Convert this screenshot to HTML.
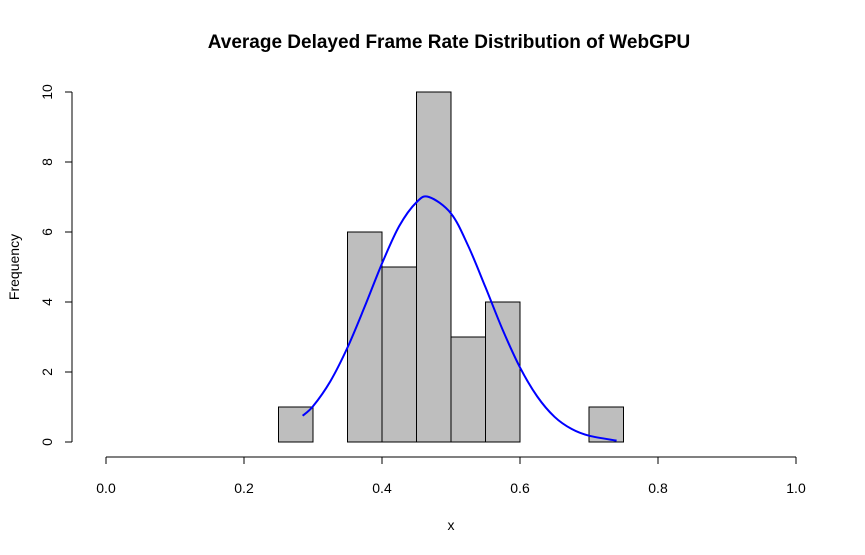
<!DOCTYPE html>
<html><head><meta charset="utf-8"><style>
html,body{margin:0;padding:0;background:#fff;}
svg{display:block;font-family:"Liberation Sans",Arial,sans-serif;}
</style></head><body>
<svg id="chart" width="865" height="555">
<text x="449" y="48" text-anchor="middle" font-size="19" font-weight="bold">Average Delayed Frame Rate Distribution of WebGPU</text>
<text x="451" y="530" text-anchor="middle" font-size="14">x</text>
<text transform="translate(19,267) rotate(-90)" text-anchor="middle" font-size="14">Frequency</text>
<g id="bars"></g><g id="xaxis"></g><g id="yaxis"></g><g id="curve"></g>
</svg>
<script>
const binStarts=[0.25,0.30,0.35,0.40,0.45,0.50,0.55,0.60,0.65,0.70];
const binWidth=0.05;
const counts=[1,0,6,5,10,3,4,0,0,1];
const xTicks=[0,0.2,0.4,0.6,0.8,1.0];
const xTickLabels=["0.0","0.2","0.4","0.6","0.8","1.0"];
const yTicks=[0,2,4,6,8,10];
const curveX=[0.285,0.30,0.325,0.35,0.375,0.40,0.425,0.45,0.468,0.50,0.525,0.55,0.575,0.60,0.625,0.65,0.675,0.70,0.74];
const curveY=[0.75,1.02,1.73,2.70,3.87,5.10,6.17,6.85,7.0,6.53,5.60,4.42,3.20,2.13,1.30,0.72,0.37,0.18,0.04];
const NS="http://www.w3.org/2000/svg";
const sx=v=>106+v*690, sy=v=>442-v*35;
function mk(tag,attrs,parent){const e=document.createElementNS(NS,tag);for(const k in attrs)e.setAttribute(k,attrs[k]);parent.appendChild(e);return e;}
const gb=document.getElementById('bars');
binStarts.forEach((b,i)=>{if(counts[i]<=0)return;
 const r=mk('rect',{x:sx(b),y:sy(counts[i]),width:sx(b+binWidth)-sx(b),height:sy(0)-sy(counts[i]),fill:'#bebebe',stroke:'#000','stroke-width':1},gb);
 
 });
const gx=document.getElementById('xaxis');
const xl=mk('line',{x1:sx(xTicks[0]),x2:sx(xTicks[xTicks.length-1]),y1:457,y2:457,stroke:'#000'},gx);


xTicks.forEach((t,i)=>{mk('line',{x1:sx(t),x2:sx(t),y1:457,y2:464,stroke:'#000'},gx);
 const tx=mk('text',{x:sx(t),y:493,'text-anchor':'middle','font-size':14},gx);tx.textContent=xTickLabels[i];
 
 });
const gy=document.getElementById('yaxis');
const yl=mk('line',{x1:72,x2:72,y1:sy(yTicks[0]),y2:sy(yTicks[yTicks.length-1]),stroke:'#000'},gy);


yTicks.forEach(t=>{mk('line',{x1:65,x2:72,y1:sy(t),y2:sy(t),stroke:'#000'},gy);
 const tx=mk('text',{transform:`translate(52,${sy(t)}) rotate(-90)`,'text-anchor':'middle','font-size':14},gy);tx.textContent=t;
 
 });
const gc=document.getElementById('curve');
const P=curveX.map((x,i)=>[sx(x),sy(curveY[i])]);
let d='M'+P[0][0]+','+P[0][1];
for(let i=0;i<P.length-1;i++){
 const p0=P[Math.max(0,i-1)],p1=P[i],p2=P[i+1],p3=P[Math.min(P.length-1,i+2)];
 const c1=[p1[0]+(p2[0]-p0[0])/6,p1[1]+(p2[1]-p0[1])/6];
 const c2=[p2[0]-(p3[0]-p1[0])/6,p2[1]-(p3[1]-p1[1])/6];
 d+=` C${c1[0]},${c1[1]} ${c2[0]},${c2[1]} ${p2[0]},${p2[1]}`;
}
const pl=mk('path',{d:d,fill:'none',stroke:'#0000ff','stroke-width':2,'stroke-linejoin':'round'},gc);


</script>
</body></html>
